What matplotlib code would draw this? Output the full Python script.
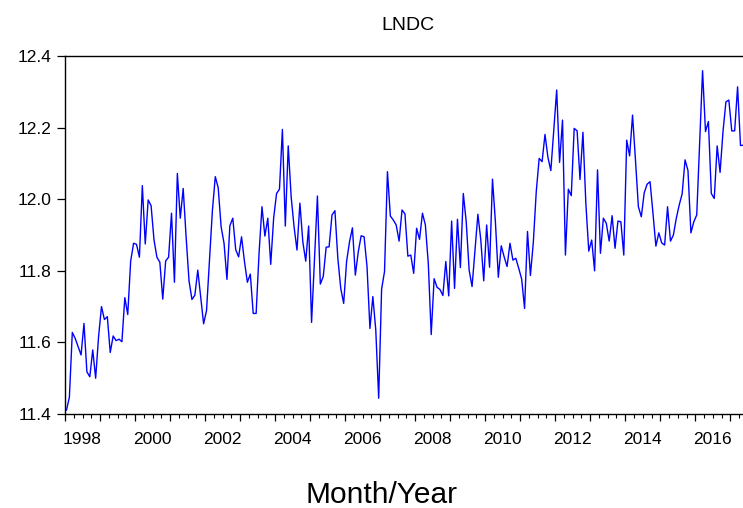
import numpy as np
import matplotlib
matplotlib.use("Agg")
from matplotlib import pyplot as plt
from matplotlib.ticker import MultipleLocator

plt.rcParams['font.family'] = ['Liberation Sans', 'DejaVu Sans']

# monthly log series, starting January 1998
start_year = 1998
lndc = [
    11.411, 11.447, 11.628, 11.611, 11.588, 11.565, 11.653, 11.518, 11.504, 11.579,
    11.500, 11.616, 11.700, 11.664, 11.672, 11.572, 11.618, 11.605, 11.609, 11.602,
    11.725, 11.678, 11.827, 11.877, 11.874, 11.838, 12.038, 11.875, 11.998, 11.982,
    11.886, 11.838, 11.824, 11.721, 11.828, 11.838, 11.961, 11.768, 12.072, 11.947,
    12.030, 11.895, 11.772, 11.720, 11.732, 11.802, 11.727, 11.652, 11.689, 11.830,
    11.967, 12.063, 12.032, 11.923, 11.877, 11.776, 11.926, 11.947, 11.859, 11.839,
    11.895, 11.826, 11.768, 11.791, 11.681, 11.681, 11.849, 11.979, 11.897, 11.947,
    11.818, 11.947, 12.016, 12.028, 12.195, 11.925, 12.149, 12.007, 11.923, 11.858,
    11.989, 11.881, 11.827, 11.925, 11.656, 11.830, 12.009, 11.763, 11.784, 11.866,
    11.867, 11.956, 11.968, 11.835, 11.751, 11.709, 11.826, 11.881, 11.920, 11.788,
    11.853, 11.898, 11.895, 11.812, 11.639, 11.728, 11.635, 11.444, 11.749, 11.798,
    12.077, 11.953, 11.942, 11.928, 11.883, 11.970, 11.959, 11.841, 11.844, 11.793,
    11.919, 11.888, 11.961, 11.928, 11.821, 11.622, 11.778, 11.754, 11.748, 11.731,
    11.826, 11.730, 11.939, 11.751, 11.944, 11.809, 12.016, 11.937, 11.802, 11.756,
    11.858, 11.958, 11.886, 11.772, 11.928, 11.810, 12.056, 11.937, 11.782, 11.870,
    11.839, 11.812, 11.877, 11.830, 11.835, 11.807, 11.777, 11.695, 11.910, 11.787,
    11.880, 12.021, 12.114, 12.105, 12.181, 12.117, 12.080, 12.193, 12.305, 12.103,
    12.221, 11.844, 12.028, 12.010, 12.198, 12.191, 12.055, 12.187, 11.988, 11.855,
    11.886, 11.800, 12.082, 11.849, 11.947, 11.933, 11.883, 11.954, 11.863, 11.939,
    11.937, 11.844, 12.165, 12.121, 12.235, 12.110, 11.979, 11.951, 12.018, 12.042,
    12.049, 11.961, 11.869, 11.906, 11.878, 11.872, 11.979, 11.883, 11.900, 11.947,
    11.984, 12.015, 12.110, 12.080, 11.906, 11.937, 11.956, 12.156, 12.359, 12.189,
    12.217, 12.016, 12.002, 12.149, 12.075, 12.189, 12.272, 12.277, 12.191, 12.191,
    12.314, 12.150, 12.151,
]
year_labels = list(range(1998, 2017, 2))
y_ticks = [11.4, 11.6, 11.8, 12.0, 12.2, 12.4]

# observations sit in the middle of each month
t = start_year + (np.arange(len(lndc)) + 0.5) / 12

fig = plt.figure(figsize=(7.43, 5.08), dpi=100)
ax = fig.add_axes([0.0875, 0.185, 0.9125, 0.7047])

ax.plot(t, lndc, color='#0000ff', lw=1.0)

ax.set_xlim(1998, 2017.363)
ax.set_ylim(11.4, 12.4)

ax.spines['right'].set_visible(False)
for s in ('left', 'top', 'bottom'):
    ax.spines[s].set_linewidth(1.0)

ax.set_yticks(y_ticks)
ax.set_yticklabels(['%.1f' % v for v in y_ticks])
ax.tick_params(axis='y', direction='out', length=6, width=0.9, pad=3.5, labelsize=12.5)

# year ticks with quarterly minors, labels in the middle of every other year
ax.xaxis.set_major_locator(MultipleLocator(1))
ax.xaxis.set_minor_locator(MultipleLocator(0.25))
ax.tick_params(axis='x', which='major', direction='out', length=5, width=0.9, labelbottom=False)
ax.tick_params(axis='x', which='minor', direction='out', length=2.8, width=0.8)
for yr in year_labels:
    ax.text(yr + 0.5, -0.0835, str(yr), transform=ax.get_xaxis_transform(),
            ha='center', va='baseline', fontsize=12.5)

fig.text(0.549, 1 - 30 / 508, 'LNDC', ha='center', va='baseline', fontsize=14)
fig.text(382 / 743, 1 - 503 / 508, 'Month/Year', ha='center', va='baseline', fontsize=21.5)

fig.savefig('out.png', dpi=100)
